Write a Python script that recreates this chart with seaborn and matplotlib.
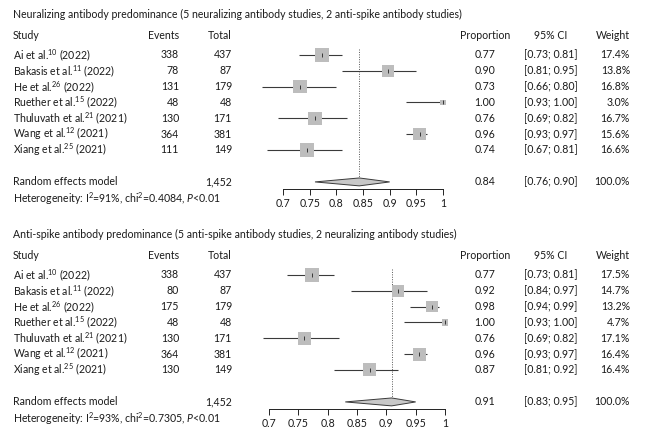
import matplotlib
matplotlib.use("Agg")
import matplotlib.pyplot as plt
import matplotlib.transforms as mtransforms
import seaborn as sns
import pandas as pd

# Study data (shared)
studies = ["Ai et al.", "Bakasis et al.", "He et al.", "Ruether et al.",
           "Thuluvath et al.", "Wang et al.", "Xiang et al."]
refs = ["10", "11", "26", "15", "21", "12", "25"]
years = ["2022", "2022", "2022", "2022", "2021", "2021", "2021"]
totals = [437, 87, 179, 48, 171, 381, 149]

# Neutralizing antibody predominance
nab_events = [338, 78, 131, 48, 130, 364, 111]
nab_prop = [0.773, 0.897, 0.732, 1.0, 0.760, 0.956, 0.745]
nab_lo = [0.73, 0.81, 0.66, 0.93, 0.69, 0.93, 0.67]
nab_hi = [0.81, 0.95, 0.80, 1.00, 0.82, 0.97, 0.81]
nab_weight = [17.4, 13.8, 16.8, 3.0, 16.7, 15.6, 16.6]
nab_pooled = [0.843, 0.76, 0.90]
nab_het = ["91%", "0.4084"]

# Anti-spike antibody predominance
spk_events = [338, 80, 175, 48, 130, 364, 130]
spk_prop = [0.773, 0.920, 0.978, 1.0, 0.760, 0.956, 0.872]
spk_lo = [0.73, 0.84, 0.94, 0.93, 0.69, 0.93, 0.81]
spk_hi = [0.81, 0.97, 0.99, 1.00, 0.82, 0.97, 0.92]
spk_weight = [17.5, 14.7, 13.2, 4.7, 17.1, 16.4, 16.4]
spk_pooled = [0.909, 0.83, 0.95]
spk_het = ["93%", "0.7305"]

titles = ["Neuralizing antibody predominance (5 neuralizing antibody studies, 2 anti-spike antibody studies)",
          "Anti-spike antibody predominance (5 anti-spike antibody studies, 2 neuralizing antibody studies)"]
ticks = [0.7, 0.75, 0.8, 0.85, 0.9, 0.95, 1.0]
tick_labels = ["0.7", "0.75", "0.8", "0.85", "0.9", "0.95", "1"]

sns.set_theme(style="white")
plt.rcParams["font.family"] = ["Lato", "DejaVu Sans"]
plt.rcParams["mathtext.fontset"] = "custom"
plt.rcParams["mathtext.rm"] = "Lato"
plt.rcParams["mathtext.it"] = "Lato:italic"

FS = 7.6
TXT = "#1a1a1a"
W, H = 646, 438

fig = plt.figure(figsize=(W / 100, H / 100), dpi=100)

panels = [
    dict(events=nab_events, prop=nab_prop, lo=nab_lo, hi=nab_hi, weight=nab_weight,
         pooled=nab_pooled, het=nab_het, title=titles[0], top=48, bottom=189,
         x07=283, x10=443),
    dict(events=spk_events, prop=spk_prop, lo=spk_lo, hi=spk_hi, weight=spk_weight,
         pooled=spk_pooled, het=spk_het, title=titles[1], top=268, bottom=409,
         x07=269, x10=445),
]

ax_left, ax_right = 250, 462
row_px = 15.83

for p in panels:
    ax = fig.add_axes([ax_left / W, 1 - p["bottom"] / H,
                       (ax_right - ax_left) / W, (p["bottom"] - p["top"]) / H])
    scale = (p["x10"] - p["x07"]) / 0.3
    ax.set_xlim(0.7 - (p["x07"] - ax_left) / scale, 1.0 + (ax_right - p["x10"]) / scale)
    ybot = (p["bottom"] - p["top"]) / row_px - 0.44
    ax.set_ylim(ybot, -0.44)

    df = pd.DataFrame({"row": range(len(studies)), "prop": p["prop"],
                       "lo": p["lo"], "hi": p["hi"], "weight": p["weight"]})

    # CI lines
    ax.hlines(df["row"], df["lo"], df["hi"], color="#3a3a3a", lw=0.8, zorder=2)
    # weight squares (area ~ weight)
    sns.scatterplot(data=df, x="prop", y="row", size="weight",
                    sizes=(5.4 * min(p["weight"]), 5.4 * max(p["weight"])),
                    size_norm=(min(p["weight"]), max(p["weight"])),
                    marker="s", color="#bdbdbd", edgecolor="none", legend=False, ax=ax, zorder=3)
    ax.scatter(df["prop"], df["row"], marker="|", s=10, color="#222222", linewidths=0.6, zorder=4)

    # pooled estimate
    est, plo, phi = p["pooled"]
    yr = 8.02
    ax.vlines(est, -0.4, yr, color="#555555", lw=0.7, linestyles=(0, (1, 1.5)), zorder=1)
    ax.fill([plo, est, phi, est], [yr, yr - 0.25, yr, yr + 0.25],
            facecolor="#c8c8c8", edgecolor="#3a3a3a", lw=0.7, zorder=3)

    # axis styling
    for s in ["top", "right", "left"]:
        ax.spines[s].set_visible(False)
    ax.spines["bottom"].set_bounds(0.7, 1.0)
    ax.spines["bottom"].set_color("#222222")
    ax.spines["bottom"].set_linewidth(0.7)
    ax.set_xticks(ticks)
    ax.set_xticklabels(tick_labels, fontsize=FS, color=TXT)
    ax.tick_params(axis="x", direction="out", length=4.5, width=0.7, color="#222222",
                   pad=2, bottom=True)
    ax.set_yticks([])
    ax.set_xlabel("")
    ax.set_ylabel("")

    tr = mtransforms.blended_transform_factory(fig.transFigure, ax.transData)

    def put(xpx, y, s, ha="left"):
        fig.text(xpx / W, y, s, transform=tr, ha=ha, va="center", fontsize=FS, color=TXT)

    # title and headers
    put(13, -2.53, p["title"])
    hy = -1.2
    put(13, hy, "Study")
    put(179, hy, "Events", ha="right")
    put(232, hy, "Total", ha="right")
    put(485, hy, "Proportion", ha="center")
    put(551, hy, "95% CI", ha="center")
    put(630, hy, "Weight", ha="right")

    for i in range(len(studies)):
        put(13, i, f"{studies[i]}$^{{\\mathrm{{{refs[i]}}}}}$ ({years[i]})")
        put(179, i, f"{p['events'][i]}", ha="right")
        put(232, i, f"{totals[i]}", ha="right")
        put(485, i, f"{p['prop'][i]:.2f}", ha="center")
        put(551, i, f"[{p['lo'][i]:.2f}; {p['hi'][i]:.2f}]", ha="center")
        put(630, i, f"{p['weight'][i]:.1f}%", ha="right")

    put(13, yr, "Random effects model")
    put(232, yr, f"{sum(totals):,}", ha="right")
    put(485, yr, f"{est:.2f}", ha="center")
    put(551, yr, f"[{plo:.2f}; {phi:.2f}]", ha="center")
    put(630, yr, "100.0%", ha="right")
    put(13, yr + 1.07, f"Heterogeneity: I$^{{\\mathrm{{2}}}}$={p['het'][0]}, chi$^{{\\mathrm{{2}}}}$={p['het'][1]}, $P$<0.01")

fig.savefig("out.png", dpi=100)
